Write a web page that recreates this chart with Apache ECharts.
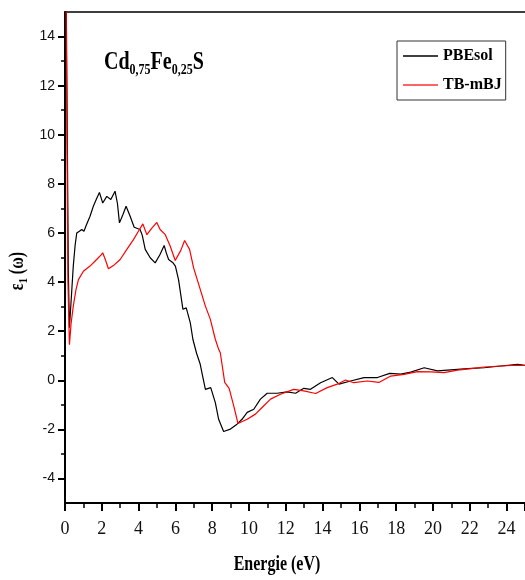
<!DOCTYPE html>
<html><head><meta charset="utf-8">
<script src="https://cdn.jsdelivr.net/npm/echarts@6/dist/echarts.min.js"></script>
<style>html,body{margin:0;padding:0;background:#fff}#c{width:525px;height:580px}</style>
</head><body><div id="c"></div>
<script>
const seriesNames = ['PBEsol', 'TB-mBJ'];
const pbesolE = [0.02,0.18,0.24,0.33,0.45,0.55,0.64,0.78,0.91,1.03,1.15,1.36,1.54,1.72,1.87,2.05,2.27,2.49,2.72,2.85,2.96,3.15,3.32,3.54,3.76,4.08,4.20,4.36,4.63,4.90,5.15,5.39,5.50,5.63,5.85,6.00,6.17,6.41,6.59,6.81,6.95,7.15,7.35,7.50,7.63,7.72,7.92,8.17,8.35,8.62,8.99,9.35,9.62,9.90,10.26,10.62,10.99,11.53,12.07,12.53,12.98,13.34,13.89,14.53,14.89,15.52,16.25,16.98,17.65,18.25,18.79,19.52,20.24,20.97,21.88,22.78,23.69,24.60,25.00];
const pbesolEps = [20,4.5,2.14,3.2,4.65,5.5,6.0,6.07,6.14,6.07,6.3,6.68,7.09,7.4,7.65,7.22,7.49,7.36,7.70,7.2,6.41,6.75,7.09,6.68,6.23,6.14,5.9,5.33,4.99,4.78,5.1,5.49,5.2,4.92,4.8,4.65,4.1,2.89,2.95,2.34,1.67,1.1,0.65,0.1,-0.37,-0.43,-0.30,-0.91,-1.59,-2.09,-1.99,-1.79,-1.59,-1.31,-1.18,-0.77,-0.53,-0.53,-0.47,-0.53,-0.33,-0.37,-0.1,0.11,-0.16,-0.03,0.11,0.11,0.28,0.25,0.33,0.51,0.38,0.42,0.47,0.51,0.58,0.65,0.61];
const tbmbjE = [0.02,0.16,0.24,0.33,0.45,0.60,0.73,1.00,1.36,1.72,1.95,2.05,2.20,2.36,2.63,3.00,3.36,3.72,3.99,4.23,4.45,4.72,4.99,5.08,5.17,5.45,5.72,5.99,6.08,6.30,6.50,6.77,6.99,7.35,7.63,7.90,8.17,8.35,8.44,8.68,8.92,9.17,9.40,9.90,10.35,10.71,11.17,11.71,12.43,12.98,13.62,14.25,14.80,15.25,15.70,16.43,17.06,17.70,18.43,19.16,19.88,20.61,21.33,22.06,22.78,23.69,24.60,25.00];
const tbmbjEps = [20,4,1.45,2.3,3.02,3.7,4.1,4.44,4.65,4.92,5.1,5.19,4.9,4.54,4.67,4.92,5.33,5.73,6.07,6.37,5.93,6.20,6.43,6.4,6.14,5.93,5.46,4.88,4.88,5.3,5.69,5.33,4.58,3.70,3.02,2.48,1.67,1.26,1.12,-0.09,-0.33,-1.04,-1.76,-1.59,-1.38,-1.11,-0.77,-0.57,-0.37,-0.43,-0.54,-0.30,-0.16,0.01,-0.1,-0.03,-0.09,0.17,0.24,0.35,0.34,0.31,0.41,0.47,0.54,0.58,0.61,0.6];
const xTicks = [0,2,4,6,8,10,12,14,16,18,20,22,24];
const yTicks = [-4,-2,0,2,4,6,8,10,12,14];
const yMinorTicks = [-3,-1,1,3,5,7,9,11,13];

const zip = (a, b) => a.map((v, i) => [v, b[i]]);
const chart = echarts.init(document.getElementById('c'), null, {renderer: 'canvas'});
const serif = 'Liberation Serif';
chart.setOption({
  animation: false,
  backgroundColor: '#fff',
  grid: {left: 65, right: 0, top: 12, bottom: 77, outerBoundsMode: 'none'},
  xAxis: [{
    type: 'value', min: 0, max: 25, interval: 2, position: 'bottom',
    axisLine: {show: true, onZero: false, lineStyle: {color: '#000', width: 2}},
    axisTick: {show: true, length: 8, lineStyle: {color: '#000', width: 2}},
    minorTick: {show: true, splitNumber: 2, length: 5, lineStyle: {color: '#000', width: 1.5}},
    axisLabel: {customValues: xTicks, fontFamily: 'Liberation Sans Narrow', fontSize: 18, color: '#111', margin: 17},
    splitLine: {show: false}
  }, {
    type: 'value', min: 0, max: 25, position: 'top',
    axisLine: {show: true, onZero: false, lineStyle: {color: '#000', width: 1.5}},
    axisTick: {show: false}, axisLabel: {show: false}, splitLine: {show: false}
  }],
  yAxis: [{
    type: 'value', min: -5, max: 15, position: 'left',
    axisLine: {show: true, onZero: false, lineStyle: {color: '#000', width: 2}},
    axisTick: {show: true, length: 7, customValues: yTicks, lineStyle: {color: '#000', width: 2}},
    axisLabel: {customValues: yTicks, fontFamily: 'Liberation Sans', fontSize: 14, color: '#111', margin: 10},
    splitLine: {show: false}
  }, {
    type: 'value', min: -5, max: 15, position: 'left',
    axisLine: {show: false, onZero: false},
    axisTick: {show: true, length: 4, customValues: yMinorTicks, lineStyle: {color: '#000', width: 1.5}},
    axisLabel: {show: false}, splitLine: {show: false}
  }],
  legend: {
    left: 397, top: 41, orient: 'vertical', data: seriesNames,
    icon: 'rect', itemWidth: 35, itemHeight: 1.5, itemGap: 9, padding: [5, 4, 5, 6],
    borderColor: '#333', borderWidth: 1,
    textStyle: {fontFamily: serif, fontWeight: 'bold', fontSize: 16, lineHeight: 20, color: '#000'}
  },
  series: [{
    name: seriesNames[0], type: 'line', data: zip(pbesolE, pbesolEps), symbol: 'none',
    xAxisIndex: 0, yAxisIndex: 0, clip: true,
    lineStyle: {color: '#000', width: 1.2}, itemStyle: {color: '#000'}
  }, {
    name: seriesNames[1], type: 'line', data: zip(tbmbjE, tbmbjEps), symbol: 'none',
    xAxisIndex: 0, yAxisIndex: 0, clip: true,
    lineStyle: {color: '#ff0000', width: 1.2}, itemStyle: {color: '#ff3030'}
  }],
  graphic: [{
    type: 'text', x: 104, y: 48, scaleX: 0.8,
    style: {
      text: '{m|Cd}{s|0,75}{m|Fe}{s|0,25}{m|S}',
      textAlign: 'left', textVerticalAlign: 'top',
      rich: {
        m: {fontFamily: serif, fontWeight: 'bold', fontSize: 25, lineHeight: 30, fill: '#000'},
        s: {fontFamily: serif, fontWeight: 'bold', fontSize: 15, lineHeight: 8, verticalAlign: 'bottom', fill: '#000'}
      }
    }
  }, {
    type: 'text', x: 277, y: 565, scaleX: 0.8,
    style: {text: 'Energie (eV)', textAlign: 'center', textVerticalAlign: 'middle',
      fontFamily: serif, fontWeight: 'bold', fontSize: 20, fill: '#000'}
  }, {
    type: 'text', x: 18, y: 271, scaleX: 0.8, rotation: Math.PI / 2,
    style: {
      text: '{m|ε}{s|1}{m| (ω)}', textAlign: 'center', textVerticalAlign: 'middle',
      rich: {
        m: {fontFamily: serif, fontWeight: 'bold', fontSize: 20, lineHeight: 24, fill: '#000'},
        s: {fontFamily: serif, fontWeight: 'bold', fontSize: 13, lineHeight: 8, verticalAlign: 'bottom', fill: '#000'}
      }
    }
  }]
});
</script></body></html>
